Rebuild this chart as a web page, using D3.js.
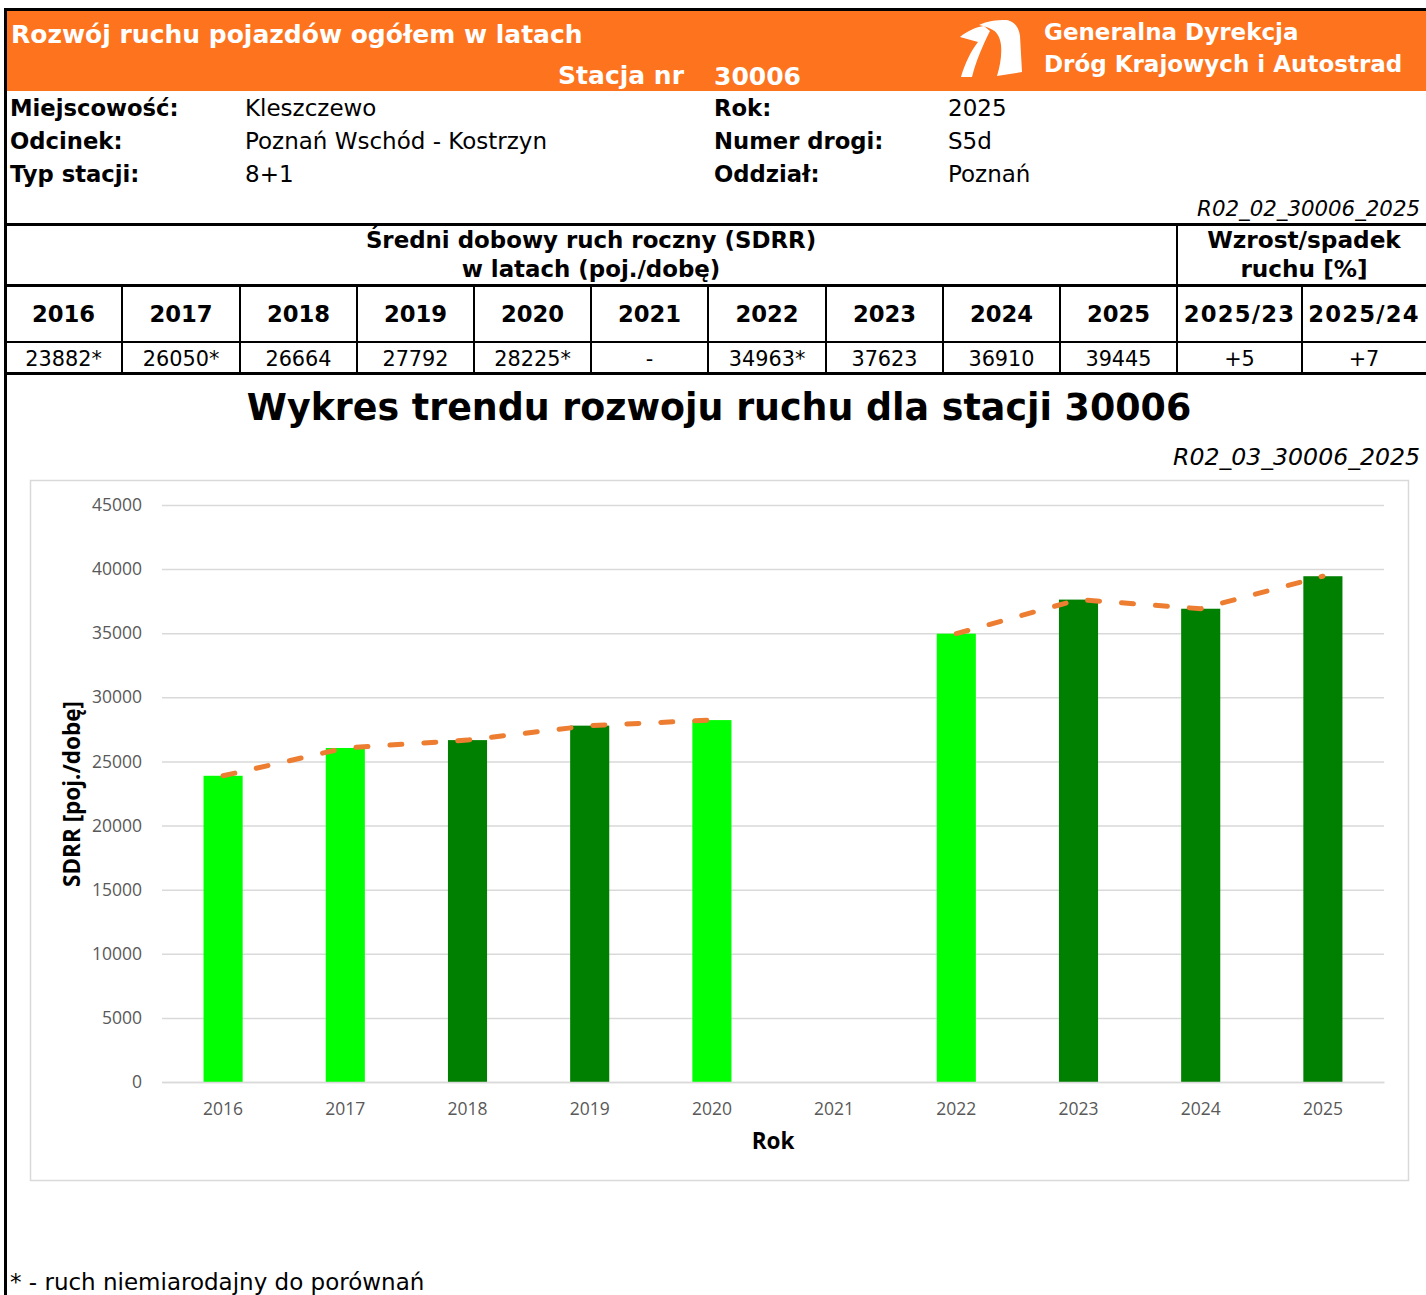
<!DOCTYPE html>
<html><head><meta charset="utf-8">
<script src="https://cdn.jsdelivr.net/npm/d3@7"></script>
<style>
html,body{margin:0;padding:0;background:#fff;}
svg{display:block;}
</style></head>
<body>
<svg id="c" width="1426" height="1295"></svg>
<script>
// ---- data ----
const years = ["2016","2017","2018","2019","2020","2021","2022","2023","2024","2025"];
const values = [23882, 26050, 26664, 27792, 28225, null, 34963, 37623, 36910, 39445];
const notComparable = [true, true, false, false, true, false, true, false, false, false];
const growthLabels = ["2025/23", "2025/24"];
const growthValues = ["+5", "+7"];
const yTicks = [0, 5000, 10000, 15000, 20000, 25000, 30000, 35000, 40000, 45000];
const infoLeft = [["Miejscowość:", "Kleszczewo"], ["Odcinek:", "Poznań Wschód - Kostrzyn"], ["Typ stacji:", "8+1"]];
const infoRight = [["Rok:", "2025"], ["Numer drogi:", "S5d"], ["Oddział:", "Poznań"]];
const stationNo = "30006";

const svg = d3.select("#c");
const F = "'DejaVu Sans', Verdana, sans-serif";
const FC = "'Open Sans', 'Segoe UI', sans-serif";
const ORANGE = "#FD731E";

// header band
svg.append("rect").attr("x", 7).attr("y", 11).attr("width", 1419).attr("height", 80).attr("fill", ORANGE);
svg.append("line").attr("x1", 4).attr("x2", 1426).attr("y1", 9.5).attr("y2", 9.5).attr("stroke", "#000").attr("stroke-width", 3);
svg.append("line").attr("x1", 5.5).attr("x2", 5.5).attr("y1", 8).attr("y2", 1295).attr("stroke", "#000").attr("stroke-width", 3);

svg.append("text").attr("x", 11).attr("y", 43).attr("font-family", F).attr("font-weight", "bold")
  .attr("font-size", 25).attr("fill", "#fff").text("Rozwój ruchu pojazdów ogółem w latach");
svg.append("text").attr("x", 684).attr("y", 84).attr("text-anchor", "end").attr("font-family", F).attr("font-weight", "bold")
  .attr("font-size", 25).attr("fill", "#fff").text("Stacja nr");
svg.append("text").attr("x", 714).attr("y", 85).attr("font-family", F).attr("font-weight", "bold")
  .attr("font-size", 25).attr("fill", "#fff").text(stationNo);
svg.append("text").attr("x", 1044).attr("y", 40).attr("font-family", F).attr("font-weight", "bold")
  .attr("font-size", 23).attr("fill", "#fff").text("Generalna Dyrekcja");
svg.append("text").attr("x", 1044).attr("y", 72).attr("font-family", F).attr("font-weight", "bold")
  .attr("font-size", 23).attr("fill", "#fff").text("Dróg Krajowych i Autostrad");

// logo
const logo = svg.append("g").attr("fill", "#fff");
logo.append("path").attr("d", "M960,37 C967,31 976,27 984,26 L990,31 C983,45 976,61 972,77 L961,77 C965,63 971,51 978,42 C972,40 966,39 960,37 Z");
logo.append("path").attr("d", "M979,25 C987,21 996,20 1006,20 C1014,21 1019,27 1020,36 L1022,72 L997,76 C1000,66 1002,55 1001,45 C1000,36 996,31 991,29 C988,27 983,26 979,25 Z");

// info rows
infoLeft.forEach((r, i) => {
  svg.append("text").attr("x", 10).attr("y", 116 + i * 33).attr("font-family", F).attr("font-weight", "bold").attr("font-size", 22.7).text(r[0]);
  svg.append("text").attr("x", 245).attr("y", 116 + i * 33).attr("font-family", F).attr("font-size", 23).text(r[1]);
});
infoRight.forEach((r, i) => {
  svg.append("text").attr("x", 714).attr("y", 116 + i * 33).attr("font-family", F).attr("font-weight", "bold").attr("font-size", 22.7).text(r[0]);
  svg.append("text").attr("x", 948).attr("y", 116 + i * 33).attr("font-family", F).attr("font-size", 23).text(r[1]);
});
svg.append("text").attr("x", 1420).attr("y", 216).attr("text-anchor", "end").attr("font-family", F).attr("font-style", "italic")
  .attr("font-size", 21.3).text("R02_02_" + stationNo + "_2025");

// table
const colX = [5, 122, 240, 357, 474, 591, 708, 826, 943, 1060, 1177, 1302, 1426];
const hl = (y, w) => svg.append("line").attr("x1", 4).attr("x2", 1426).attr("y1", y).attr("y2", y).attr("stroke", "#000").attr("stroke-width", w);
hl(224.5, 3); hl(285.5, 3); hl(342, 2); hl(373.5, 3);
svg.append("line").attr("x1", 1177).attr("x2", 1177).attr("y1", 224).attr("y2", 374).attr("stroke", "#000").attr("stroke-width", 2);
colX.slice(1, 12).forEach(x => {
  svg.append("line").attr("x1", x).attr("x2", x).attr("y1", 285).attr("y2", 374).attr("stroke", "#000").attr("stroke-width", 2);
});
svg.append("text").attr("x", 591).attr("y", 248).attr("text-anchor", "middle").attr("font-family", F).attr("font-weight", "bold").attr("font-size", 22.9).text("Średni dobowy ruch roczny (SDRR)");
svg.append("text").attr("x", 591).attr("y", 277).attr("text-anchor", "middle").attr("font-family", F).attr("font-weight", "bold").attr("font-size", 22.9).text("w latach (poj./dobę)");
svg.append("text").attr("x", 1304).attr("y", 248).attr("text-anchor", "middle").attr("font-family", F).attr("font-weight", "bold").attr("font-size", 23.2).text("Wzrost/spadek");
svg.append("text").attr("x", 1304).attr("y", 277).attr("text-anchor", "middle").attr("font-family", F).attr("font-weight", "bold").attr("font-size", 23.2).text("ruchu [%]");

const headCells = years.concat(growthLabels);
const valCells = values.map((v, i) => v == null ? "-" : v + (notComparable[i] ? "*" : "")).concat(growthValues);
headCells.forEach((t, i) => {
  const cx = (colX[i] + colX[i + 1]) / 2;
  svg.append("text").attr("x", cx).attr("y", 322).attr("text-anchor", "middle").attr("font-family", F).attr("font-weight", "bold")
    .attr("font-size", 22.7).attr("letter-spacing", i >= 10 ? 1.2 : 0).text(t);
  svg.append("text").attr("x", cx).attr("y", 366).attr("text-anchor", "middle").attr("font-family", F).attr("font-size", 20.8).text(valCells[i]);
});

// chart title
svg.append("text").attr("x", 719).attr("y", 420).attr("text-anchor", "middle").attr("font-family", F).attr("font-weight", "bold")
  .attr("font-size", 36.4).text("Wykres trendu rozwoju ruchu dla stacji " + stationNo);
svg.append("text").attr("x", 1420).attr("y", 465).attr("text-anchor", "end").attr("font-family", F).attr("font-style", "italic")
  .attr("font-size", 23.6).text("R02_03_" + stationNo + "_2025");

// chart frame
svg.append("rect").attr("x", 30.5).attr("y", 480.5).attr("width", 1378).attr("height", 700).attr("fill", "#fff").attr("stroke", "#d9d9d9").attr("stroke-width", 1.5);

const x = d3.scaleBand().domain(years).range([162, 1384]).padding(0);
const y = d3.scaleLinear().domain([0, 45000]).range([1082, 505]);
const barW = x.bandwidth() * 0.32;

// grid
const yAxis = d3.axisLeft(y).tickValues(yTicks).tickSize(-(1384 - 162)).tickPadding(20).tickFormat(d3.format("d"));
const gy = svg.append("g").attr("transform", "translate(162,0)").call(yAxis);
gy.select(".domain").remove();
gy.selectAll(".tick line").attr("stroke", "#d9d9d9").attr("stroke-width", 1.5);
gy.selectAll(".tick text").attr("font-family", FC).attr("font-size", 17.5).attr("fill", "#595959").attr("x", -20);

// bars
svg.append("g").selectAll("rect").data(years.map((yr, i) => ({yr, v: values[i], f: notComparable[i]})).filter(d => d.v != null))
  .join("rect")
  .attr("x", d => x(d.yr) + x.bandwidth() / 2 - barW / 2)
  .attr("y", d => y(d.v))
  .attr("width", barW)
  .attr("height", d => y(0) - y(d.v))
  .attr("fill", d => d.f ? "#00FF00" : "#008000");

// x axis
const xAxis = d3.axisBottom(x).tickSize(0).tickPadding(21);
const gx = svg.append("g").attr("transform", "translate(0,1082)").call(xAxis);
gx.select(".domain").attr("stroke", "#d9d9d9").attr("stroke-width", 1.5);
gx.selectAll(".tick text").attr("font-family", FC).attr("font-size", 17.5).attr("fill", "#595959");

// trend line
const line = d3.line().defined(d => d.v != null).x(d => x(d.yr) + x.bandwidth() / 2).y(d => y(d.v));
svg.append("path").datum(years.map((yr, i) => ({yr, v: values[i]})))
  .attr("d", line).attr("fill", "none").attr("stroke", "#ED7D31").attr("stroke-width", 5)
  .attr("stroke-dasharray", "12,22").attr("stroke-linecap", "round");

// axis titles
svg.append("text").attr("x", 773).attr("y", 1149).attr("text-anchor", "middle").attr("font-family", FC).attr("font-weight", "bold").attr("font-size", 22.5).text("Rok");
svg.append("text").attr("transform", "translate(80,794) rotate(-90)").attr("text-anchor", "middle").attr("font-family", FC).attr("font-weight", "bold").attr("font-size", 22.5).text("SDRR [poj./dobę]");

// footnote
svg.append("text").attr("x", 10).attr("y", 1290).attr("font-family", F).attr("font-size", 23).text("* - ruch niemiarodajny do porównań");
</script>
</body></html>
